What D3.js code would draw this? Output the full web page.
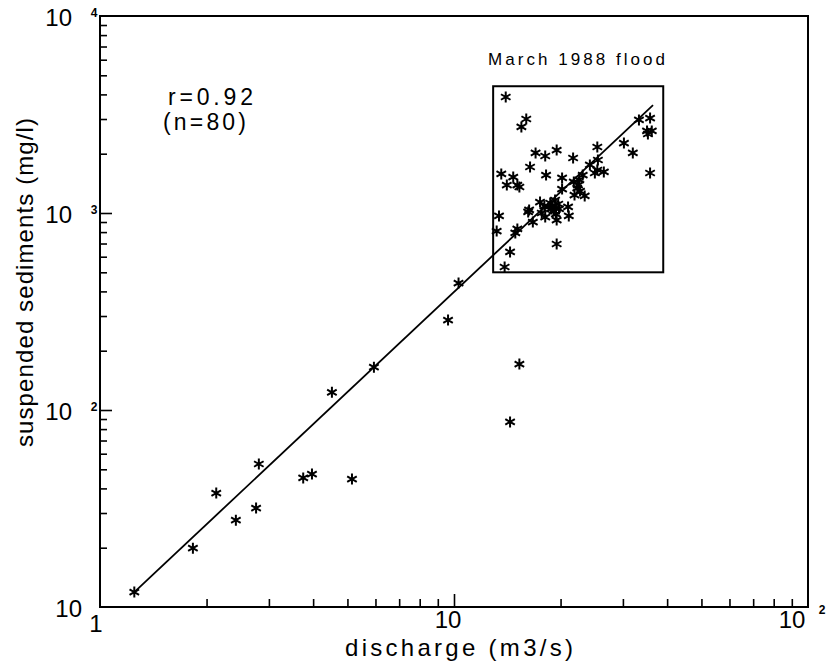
<!DOCTYPE html>
<html>
<head>
<meta charset="utf-8">
<script src="https://cdn.jsdelivr.net/npm/d3@7"></script>
<style>
  body { margin: 0; background: #fff; }
  text { font-family: "Liberation Sans", Arial, sans-serif; fill: #000; }
</style>
</head>
<body>
<div id="vis"></div>
<script>
// discharge (m3/s) and suspended sediments (mg/l)
const discharge = [
  1.25, 1.83, 2.13, 2.42, 2.76, 2.81, 3.75, 3.97, 4.52, 5.15, 5.94, 9.62, 10.3, 14.4, 15.3,
  14.0, 16.0, 15.5, 17.0, 18.1, 19.5, 21.7, 25.4, 30.2, 32.0, 33.3, 35.8, 35.1, 36.2, 35.3,
  35.8, 25.5, 25.4, 26.5, 25.0, 16.4, 13.6, 14.7, 14.1, 15.1, 15.3, 18.2, 20.2, 21.8, 22.6,
  23.1, 22.4, 22.3, 20.2, 22.7, 23.4, 17.5, 18.0, 18.7, 19.0, 19.3, 18.8, 19.4, 19.7, 18.5,
  19.1, 19.8, 16.3, 16.2, 17.7, 18.1, 19.4, 19.5, 21.0, 21.1, 16.7, 13.4, 13.2, 14.9, 15.1,
  14.4, 19.5, 13.9, 24.2, 21.9
]
const sediments = [
  11.9, 19.9, 37.9, 27.6, 31.8, 53.2, 45.2, 47.3, 123, 44.6, 165, 286, 441, 87, 171,
  3880, 3000, 2733, 2017, 1947, 2088, 1902, 2163, 2266, 2017, 2966, 3035, 2608, 2608, 2518,
  1596, 1858, 1653, 1615, 1596, 1712, 1578, 1523, 1387, 1387, 1355, 1559, 1506, 1437, 1471,
  1559, 1387, 1339, 1323, 1293, 1220, 1137, 1085, 1124, 1085, 1164, 1048, 1060, 1111, 1073,
  1024, 1048, 1036, 1012, 1000, 954, 988, 921, 1073, 966, 900, 966, 810, 792, 830,
  634, 696, 532, 1753, 1234
]

// regression line end points
const fitX = [1.25, 36.5]
const fitY = [11.9, 3530]

// box around the flood samples
const floodX = [12.9, 39]
const floodY = [500, 4400]

const xMinor = [2, 3, 4, 5, 6, 7, 8, 9, 20, 30, 40, 50, 60, 70, 80, 90]
const xMajor = [10]
const yMinor = [20, 30, 40, 50, 60, 70, 80, 90, 200, 300, 400, 500, 600, 700, 800, 900,
  2000, 3000, 4000, 5000, 6000, 7000, 8000, 9000]
const yMajor = [100, 1000]

const width = 839
const height = 668
const plotLeft = 100, plotRight = 808, plotTop = 16, plotBottom = 607

const x = d3.scaleLog().domain([1, 100]).range([plotLeft, plotRight])
const y = d3.scaleLog().domain([10, 10000]).range([plotBottom, plotTop])

const svg = d3.select('#vis').append('svg')
    .attr('width', width)
    .attr('height', height)

//ticks, all pointing inside the frame
svg.append('g').attr('transform', `translate(0, ${plotBottom})`)
    .call(d3.axisBottom(x).tickValues(xMinor).tickSize(-8).tickFormat(''))
svg.append('g').attr('transform', `translate(0, ${plotBottom})`)
    .call(d3.axisBottom(x).tickValues(xMajor).tickSize(-13).tickFormat(''))
svg.append('g').attr('transform', `translate(${plotLeft}, 0)`)
    .call(d3.axisLeft(y).tickValues(yMinor).tickSize(-7).tickFormat(''))
svg.append('g').attr('transform', `translate(${plotLeft}, 0)`)
    .call(d3.axisLeft(y).tickValues(yMajor).tickSize(-12).tickFormat(''))
svg.selectAll('.domain').remove()
svg.selectAll('.tick line').attr('stroke', '#000').attr('stroke-width', 1.6)

//frame
svg.append('rect')
    .attr('x', plotLeft).attr('y', plotTop)
    .attr('width', plotRight - plotLeft).attr('height', plotBottom - plotTop)
    .attr('fill', 'none').attr('stroke', '#000').attr('stroke-width', 2)

//y tick labels
const yLabels = [[10000, '4'], [1000, '3'], [100, '2']]
yLabels.forEach(d => {
    svg.append('text').attr('x', 72).attr('y', y(d[0]) + 10)
        .attr('text-anchor', 'end').style('font-size', '24px').text('10')
    svg.append('text').attr('x', 94).attr('y', y(d[0]) + 1)
        .attr('text-anchor', 'middle').style('font-size', '12px').style('font-weight', 'bold').text(d[1])
})
svg.append('text').attr('x', 82).attr('y', y(10) + 10)
    .attr('text-anchor', 'end').style('font-size', '24px').text('10')

//x tick labels
svg.append('text').attr('x', x(1) - 4).attr('y', 632)
    .attr('text-anchor', 'middle').style('font-size', '24px').text('1')
svg.append('text').attr('x', x(10) - 6).attr('y', 628)
    .attr('text-anchor', 'middle').style('font-size', '24px').text('10')
svg.append('text').attr('x', x(100) - 16).attr('y', 628)
    .attr('text-anchor', 'middle').style('font-size', '24px').text('10')
svg.append('text').attr('x', x(100) + 14).attr('y', 614)
    .attr('text-anchor', 'middle').style('font-size', '12px').style('font-weight', 'bold').text('2')

//axis titles
svg.append('text').attr('x', 345).attr('y', 656)
    .attr('textLength', 228).attr('lengthAdjust', 'spacing')
    .style('font-size', '24px').text('discharge (m3/s)')
svg.append('text')
    .attr('transform', 'translate(33, 447) rotate(-90)')
    .attr('textLength', 329).attr('lengthAdjust', 'spacing')
    .style('font-size', '24px').text('suspended sediments (mg/l)')

//annotations
svg.append('text').attr('x', 168).attr('y', 105)
    .attr('textLength', 85).attr('lengthAdjust', 'spacing')
    .style('font-size', '23px').text('r=0.92')
svg.append('text').attr('x', 163).attr('y', 130)
    .attr('textLength', 83).attr('lengthAdjust', 'spacing')
    .style('font-size', '23px').text('(n=80)')
svg.append('text').attr('x', 488).attr('y', 65)
    .attr('textLength', 177).attr('lengthAdjust', 'spacing')
    .style('font-size', '17px').text('March 1988 flood')

//flood box
svg.append('rect')
    .attr('x', x(floodX[0])).attr('y', y(floodY[1]))
    .attr('width', x(floodX[1]) - x(floodX[0]))
    .attr('height', y(floodY[0]) - y(floodY[1]))
    .attr('fill', 'none').attr('stroke', '#000').attr('stroke-width', 2)

//regression line
svg.append('line')
    .attr('x1', x(fitX[0])).attr('y1', y(fitY[0]))
    .attr('x2', x(fitX[1])).attr('y2', y(fitY[1]))
    .attr('stroke', '#000').attr('stroke-width', 1.8)

//asterisk markers
const r = 5.5
const star = `M0,${-r}L0,${r}M${-r * 0.87},${-r / 2}L${r * 0.87},${r / 2}M${-r * 0.87},${r / 2}L${r * 0.87},${-r / 2}`
svg.append('g').selectAll('path')
    .data(discharge.map((d, i) => [d, sediments[i]]))
    .enter()
    .append('path')
    .attr('transform', d => `translate(${x(d[0])}, ${y(d[1])})`)
    .attr('d', star)
    .attr('fill', 'none')
    .attr('stroke', '#000')
    .attr('stroke-width', 2)
</script>
</body>
</html>
